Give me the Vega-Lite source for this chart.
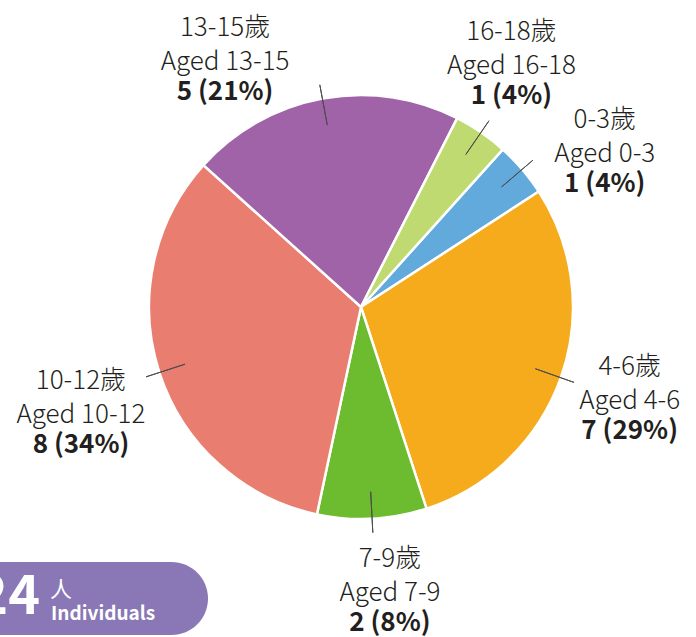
{
  "$schema": "https://vega.github.io/schema/vega-lite/v6.json",
  "padding": {"left": -40, "top": 14, "right": 0, "bottom": 0},
  "autosize": {"type": "pad"},
  "bounds": "flush",
  "spacing": 0,
  "background": "white",
  "config": {"view": {"stroke": null}, "font": "Noto Sans CJK TC"},
  "datasets": {
    "ages": [
      {"idx": 1, "age": "0-3歲", "label": "0-3歲\nAged 0-3", "count": 1, "value": "1 (4%)"},
      {"idx": 2, "age": "4-6歲", "label": "4-6歲\nAged 4-6", "count": 7, "value": "7 (29%)"},
      {"idx": 3, "age": "7-9歲", "label": "7-9歲\nAged 7-9", "count": 2, "value": "2 (8%)"},
      {"idx": 4, "age": "10-12歲", "label": "10-12歲\nAged 10-12", "count": 8, "value": "8 (34%)"},
      {"idx": 5, "age": "13-15歲", "label": "13-15歲\nAged 13-15", "count": 5, "value": "5 (21%)"},
      {"idx": 6, "age": "16-18歲", "label": "16-18歲\nAged 16-18", "count": 1, "value": "1 (4%)"}
    ],
    "total": [{"total": "24", "unit_zh": "人", "unit_en": "Individuals"}]
  },
  "vconcat": [
    {
      "width": 802,
      "height": 510,
      "data": {"name": "ages"},
      "encoding": {
        "theta": {"field": "count", "type": "quantitative", "stack": true, "scale": {"range": [0.733, 7.0162]}},
        "order": {"field": "idx", "type": "quantitative"}
      },
      "layer": [
        {
          "mark": {"type": "arc", "outerRadius": 212, "stroke": "white", "strokeWidth": 2.5},
          "encoding": {
            "color": {
              "field": "age", "type": "nominal", "legend": null,
              "scale": {
                "domain": ["0-3歲", "4-6歲", "7-9歲", "10-12歲", "13-15歲", "16-18歲"],
                "range": ["#62a9dc", "#f6ab1d", "#6dbb2e", "#e97e70", "#a163a7", "#bfda70"]
              }
            }
          }
        },
        {
          "mark": {"type": "arc", "innerRadius": 185, "outerRadius": 226, "padAngle": 3, "filled": false, "color": "#4d4d4d", "strokeWidth": 1}
        },
        {
          "mark": {
            "type": "text", "radius": 285, "fontSize": 26, "fontWeight": 300, "lineBreak": "\n", "lineHeight": 34,
            "baseline": "alphabetic", "align": "center", "color": "#231f20",
            "dx": {"expr": "datum.idx == 1 ? 27 : datum.idx == 3 ? 14 : datum.idx == 4 ? -9 : datum.idx == 5 ? -84 : datum.idx == 6 ? -11 : 0"},
            "dy": {"expr": "datum.idx == 1 ? 6 : datum.idx == 2 ? -27 : datum.idx == 3 ? -25 : datum.idx == 4 ? -6 : datum.idx == 5 ? 9 : -32"}
          },
          "encoding": {"text": {"field": "label"}}
        },
        {
          "mark": {
            "type": "text", "radius": 285, "fontSize": 26, "fontWeight": "bold",
            "baseline": "alphabetic", "align": "center", "color": "#231f20",
            "dx": {"expr": "datum.idx == 1 ? 27 : datum.idx == 3 ? 14 : datum.idx == 4 ? -9 : datum.idx == 5 ? -84 : datum.idx == 6 ? -11 : 0"},
            "dy": {"expr": "datum.idx == 1 ? 70 : datum.idx == 2 ? 37 : datum.idx == 3 ? 39 : datum.idx == 4 ? 58 : datum.idx == 5 ? 73 : 32"}
          },
          "encoding": {"text": {"field": "value"}}
        }
      ]
    },
    {
      "width": 248,
      "height": 73,
      "data": {"name": "total"},
      "layer": [
        {
          "mark": {"type": "rect", "cornerRadius": 36.5, "color": "#8978b5"}
        },
        {
          "mark": {"type": "text", "align": "right", "baseline": "alphabetic", "fontSize": 54, "fontWeight": "bold", "color": "white", "dx": -44, "dy": 15.5},
          "encoding": {"text": {"field": "total"}}
        },
        {
          "mark": {"type": "text", "align": "left", "baseline": "alphabetic", "fontSize": 22, "color": "white", "dx": -34, "dy": -1.5},
          "encoding": {"text": {"field": "unit_zh"}}
        },
        {
          "mark": {"type": "text", "align": "left", "baseline": "alphabetic", "fontSize": 19, "fontWeight": "bold", "color": "white", "dx": -33, "dy": 21.5},
          "encoding": {"text": {"field": "unit_en"}}
        }
      ]
    }
  ]
}
